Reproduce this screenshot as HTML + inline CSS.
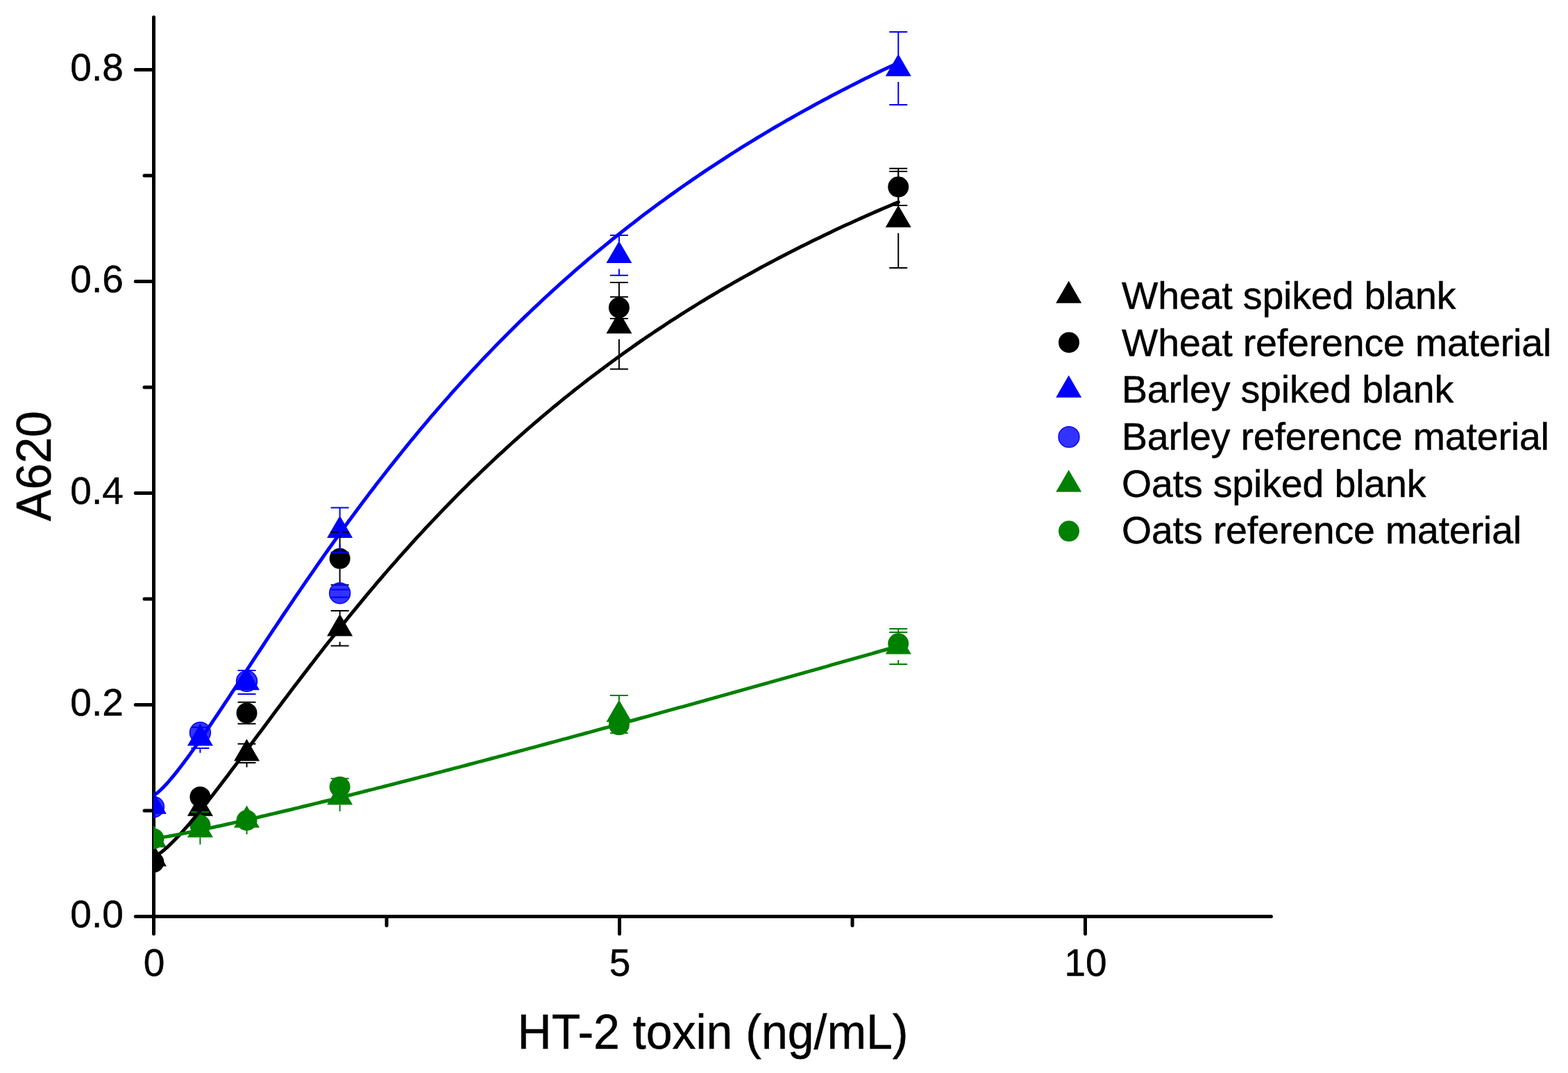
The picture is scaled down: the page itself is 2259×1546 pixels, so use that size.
<!DOCTYPE html>
<html><head><meta charset="utf-8"><title>HT-2 toxin calibration curves</title>
<style>
html,body{margin:0;padding:0;background:#fff;overflow:hidden;}
svg{display:block;}
text{font-family:"Liberation Sans",Arial,sans-serif;fill:#000;stroke:#000;stroke-width:0.45px;}
.tk{font-size:55px;}
.ti{font-size:68px;}
.lg{font-size:55.5px;letter-spacing:-0.17px;}
</style></head>
<body>
<svg width="2259" height="1546" viewBox="0 0 2259 1546">
<rect width="2259" height="1546" fill="#fff"/>
<defs><clipPath id="pa"><rect x="221" y="0" width="1619.9" height="1324.4"/></clipPath></defs>
<path d="M221.5,24.8V1320.4H1831.4" stroke="#000" stroke-width="5" fill="none" stroke-linecap="round"/>
<path d="M195.3,1320.4H221.5M208.0,1167.9H221.5M195.3,1015.4H221.5M208.0,862.9H221.5M195.3,710.4H221.5M208.0,558.0H221.5M195.3,405.5H221.5M208.0,253.0H221.5M195.3,100.5H221.5M221.5,1320.4V1345.4M557.0,1320.4V1333.4M892.5,1320.4V1345.4M1228.0,1320.4V1333.4M1563.5,1320.4V1345.4" stroke="#000" stroke-width="5" stroke-linecap="round"/>
<g clip-path="url(#pa)">
<path d="M221.4,1216.4L239.9,1248.3L202.9,1248.3Z" fill="#000"/><path d="M288.4,1143.8L306.9,1175.7L269.9,1175.7Z" fill="#000"/><path d="M355.5,1064.7L374.0,1096.6L337.0,1096.6Z" fill="#000"/><path d="M489.6,884.5L508.1,916.4L471.1,916.4Z" fill="#000"/><path d="M891.9,448.6L910.4,480.5L873.4,480.5Z" fill="#000"/><path d="M1294.2,295.7L1312.7,327.6L1275.7,327.6Z" fill="#000"/>
<circle cx="221.4" cy="1242.3" r="15" fill="#000"/><circle cx="288.4" cy="1148.2" r="15" fill="#000"/><circle cx="355.5" cy="1027.4" r="15" fill="#000"/><circle cx="489.6" cy="804.8" r="15" fill="#000"/><circle cx="891.9" cy="443.3" r="15" fill="#000"/><circle cx="1294.2" cy="269.3" r="15" fill="#000"/>
<path d="M221.4,1140.8L239.9,1172.7L202.9,1172.7Z" fill="#00f"/><path d="M288.4,1042.7L306.9,1074.6L269.9,1074.6Z" fill="#00f"/><path d="M355.5,962.3L374.0,994.2L337.0,994.2Z" fill="#00f"/><path d="M489.6,743.0L508.1,774.9L471.1,774.9Z" fill="#00f"/><path d="M891.9,347.2L910.4,379.1L873.4,379.1Z" fill="#00f"/><path d="M1294.2,77.8L1312.7,109.7L1275.7,109.7Z" fill="#00f"/>
<path d="M221.4,1189.1L239.9,1221.0L202.9,1221.0Z" fill="#008000"/><path d="M288.4,1174.7L306.9,1206.6L269.9,1206.6Z" fill="#008000"/><path d="M355.5,1160.5L374.0,1192.4L337.0,1192.4Z" fill="#008000"/><path d="M489.6,1127.6L508.1,1159.5L471.1,1159.5Z" fill="#008000"/><path d="M891.9,1008.4L910.4,1040.3L873.4,1040.3Z" fill="#008000"/><path d="M1294.2,910.7L1312.7,942.6L1275.7,942.6Z" fill="#008000"/>
<circle cx="221.4" cy="1208.4" r="15" fill="#008000"/><circle cx="288.4" cy="1189.0" r="15" fill="#008000"/><circle cx="355.5" cy="1182.0" r="15" fill="#008000"/><circle cx="489.6" cy="1133.8" r="15" fill="#008000"/><circle cx="891.9" cy="1044.3" r="15" fill="#008000"/><circle cx="1294.2" cy="927.3" r="15" fill="#008000"/>
<path d="M342.5,1071.8H368.5M342.5,1099.0H368.5M489.6,879.9V885.7M476.6,879.9H502.6M489.6,924.7V930.4M476.6,930.4H502.6M891.9,407.0V449.8M878.9,407.0H904.9M891.9,488.8V531.7M878.9,531.7H904.9M1294.2,247.0V296.9M1281.2,247.0H1307.2M1294.2,335.9V385.9M1281.2,385.9H1307.2M355.5,1099.0V1105.6" stroke="#000" stroke-width="2" fill="none"/>
<path d="M355.5,1011.8V1012.4M342.5,1011.8H368.5M355.5,1042.4V1042.8M342.5,1042.8H368.5M489.6,766.8V789.8M476.6,766.8H502.6M489.6,819.8V842.8M476.6,842.8H502.6M891.9,427.7V428.3M878.9,427.7H904.9M891.9,458.3V458.9M878.9,458.9H904.9M1294.2,242.7V254.3M1281.2,242.7H1307.2M1294.2,284.3V295.9M1281.2,295.9H1307.2" stroke="#000" stroke-width="2" fill="none"/>
<path d="M275.4,1048.1H301.4M275.4,1078.0H301.4M342.5,966.0H368.5M342.5,999.9H368.5M489.6,731.6V744.2M476.6,731.6H502.6M489.6,783.2V795.8M476.6,795.8H502.6M891.9,339.0V348.4M878.9,339.0H904.9M891.9,387.4V396.7M878.9,396.7H904.9M1294.2,46.0V79.0M1281.2,46.0H1307.2M1294.2,118.0V150.9M1281.2,150.9H1307.2M288.4,1078.9V1084.8" stroke="#00f" stroke-width="2" fill="none"/>
<path d="M891.9,1002.0V1009.6M878.9,1002.0H904.9M891.9,1048.6V1056.2M878.9,1056.2H904.9M1294.2,905.9V911.9M1281.2,905.9H1307.2M1294.2,950.9V957.0M1281.2,957.0H1307.2M288.4,1206.6V1216.8M355.5,1195.0V1202.0M489.6,1159.5V1168.9" stroke="#008000" stroke-width="2" fill="none"/>
<path d="M288.4,1170.1V1174.0M275.4,1170.1H301.4M476.6,1121.7H502.6M1294.2,910.9V912.3M1281.2,910.9H1307.2" stroke="#008000" stroke-width="2" fill="none"/>
<path d="M221.4,1234.4 L224.1,1233.4 L226.8,1231.9 L229.4,1230.1 L232.1,1228.1 L234.8,1226.0 L237.5,1223.7 L240.2,1221.4 L242.9,1218.9 L245.5,1216.4 L248.2,1213.7 L250.9,1211.0 L253.6,1208.3 L256.3,1205.4 L258.9,1202.6 L261.6,1199.6 L264.3,1196.7 L267.0,1193.6 L269.7,1190.6 L272.4,1187.5 L275.0,1184.3 L277.7,1181.1 L280.4,1177.9 L283.1,1174.7 L285.8,1171.4 L288.4,1168.1 L291.1,1164.8 L296.5,1158.1 L301.9,1151.3 L307.2,1144.4 L312.6,1137.5 L318.0,1130.5 L323.3,1123.5 L328.7,1116.4 L334.0,1109.3 L339.4,1102.2 L344.8,1095.1 L350.1,1087.9 L355.5,1080.7 L360.9,1073.5 L366.2,1066.3 L371.6,1059.1 L377.0,1051.9 L382.3,1044.7 L387.7,1037.5 L393.0,1030.3 L398.4,1023.1 L403.8,1016.0 L409.1,1008.8 L414.5,1001.7 L419.9,994.6 L425.2,987.5 L430.6,980.4 L436.0,973.4 L441.3,966.4 L446.7,959.4 L452.1,952.5 L457.4,945.6 L462.8,938.7 L468.1,931.8 L473.5,925.0 L478.9,918.2 L484.2,911.5 L489.6,904.8 L495.0,898.1 L500.3,891.5 L505.7,884.9 L511.1,878.3 L516.4,871.8 L521.8,865.3 L527.1,858.8 L532.5,852.4 L537.9,846.1 L543.2,839.7 L548.6,833.5 L554.0,827.2 L559.3,821.0 L564.7,814.9 L570.1,808.8 L575.4,802.7 L580.8,796.6 L586.2,790.7 L591.5,784.7 L596.9,778.8 L602.2,772.9 L607.6,767.1 L613.0,761.3 L618.3,755.6 L623.7,749.9 L629.1,744.2 L634.4,738.6 L639.8,733.0 L645.2,727.5 L650.5,722.0 L655.9,716.5 L661.2,711.1 L666.6,705.8 L672.0,700.4 L677.3,695.1 L682.7,689.9 L688.1,684.7 L693.4,679.5 L698.8,674.4 L704.2,669.3 L709.5,664.2 L714.9,659.2 L720.3,654.2 L725.6,649.3 L731.0,644.4 L736.3,639.5 L741.7,634.7 L747.1,629.9 L752.4,625.1 L757.8,620.4 L763.2,615.7 L768.5,611.1 L773.9,606.5 L779.3,601.9 L784.6,597.4 L790.0,592.9 L795.3,588.4 L800.7,584.0 L806.1,579.6 L811.4,575.2 L816.8,570.9 L822.2,566.6 L827.5,562.3 L832.9,558.1 L838.3,553.9 L843.6,549.7 L849.0,545.6 L854.4,541.5 L859.7,537.4 L865.1,533.4 L870.4,529.4 L875.8,525.4 L881.2,521.4 L886.5,517.5 L891.9,513.6 L897.3,509.8 L902.6,506.0 L908.0,502.2 L913.4,498.4 L918.7,494.6 L924.1,490.9 L929.4,487.3 L934.8,483.6 L940.2,480.0 L945.5,476.4 L950.9,472.8 L956.3,469.3 L961.6,465.7 L967.0,462.2 L972.4,458.8 L977.7,455.3 L983.1,451.9 L988.5,448.5 L993.8,445.2 L999.2,441.8 L1004.5,438.5 L1009.9,435.2 L1015.3,432.0 L1020.6,428.7 L1026.0,425.5 L1031.4,422.3 L1036.7,419.2 L1042.1,416.0 L1047.5,412.9 L1052.8,409.8 L1058.2,406.7 L1063.5,403.7 L1068.9,400.6 L1074.3,397.6 L1079.6,394.7 L1085.0,391.7 L1090.4,388.7 L1095.7,385.8 L1101.1,382.9 L1106.5,380.0 L1111.8,377.2 L1117.2,374.4 L1122.6,371.5 L1127.9,368.7 L1133.3,366.0 L1138.6,363.2 L1144.0,360.5 L1149.4,357.8 L1154.7,355.1 L1160.1,352.4 L1165.5,349.7 L1170.8,347.1 L1176.2,344.5 L1181.6,341.9 L1186.9,339.3 L1192.3,336.7 L1197.6,334.2 L1203.0,331.6 L1208.4,329.1 L1213.7,326.6 L1219.1,324.1 L1224.5,321.7 L1229.8,319.2 L1235.2,316.8 L1240.6,314.4 L1245.9,312.0 L1251.3,309.6 L1256.7,307.3 L1262.0,304.9 L1267.4,302.6 L1272.7,300.3 L1278.1,298.0 L1283.5,295.7 L1288.8,293.4 L1294.2,291.2" stroke="#000" stroke-width="5" fill="none" stroke-linejoin="round" stroke-linecap="round"/>
<path d="M221.4,1145.7 L224.1,1144.3 L226.8,1142.3 L229.4,1140.0 L232.1,1137.5 L234.8,1134.9 L237.5,1132.1 L240.2,1129.2 L242.9,1126.2 L245.5,1123.1 L248.2,1119.9 L250.9,1116.6 L253.6,1113.3 L256.3,1109.9 L258.9,1106.5 L261.6,1103.0 L264.3,1099.4 L267.0,1095.8 L269.7,1092.2 L272.4,1088.6 L275.0,1084.9 L277.7,1081.1 L280.4,1077.4 L283.1,1073.6 L285.8,1069.7 L288.4,1065.9 L291.1,1062.0 L296.5,1054.2 L301.9,1046.4 L307.2,1038.4 L312.6,1030.5 L318.0,1022.4 L323.3,1014.4 L328.7,1006.3 L334.0,998.2 L339.4,990.0 L344.8,981.9 L350.1,973.7 L355.5,965.5 L360.9,957.4 L366.2,949.2 L371.6,941.1 L377.0,933.0 L382.3,924.8 L387.7,916.7 L393.0,908.6 L398.4,900.6 L403.8,892.5 L409.1,884.5 L414.5,876.6 L419.9,868.6 L425.2,860.7 L430.6,852.8 L436.0,844.9 L441.3,837.1 L446.7,829.3 L452.1,821.6 L457.4,813.9 L462.8,806.2 L468.1,798.6 L473.5,791.0 L478.9,783.5 L484.2,776.0 L489.6,768.6 L495.0,761.2 L500.3,753.8 L505.7,746.5 L511.1,739.2 L516.4,732.0 L521.8,724.8 L527.1,717.7 L532.5,710.6 L537.9,703.6 L543.2,696.6 L548.6,689.7 L554.0,682.8 L559.3,675.9 L564.7,669.1 L570.1,662.4 L575.4,655.7 L580.8,649.0 L586.2,642.4 L591.5,635.8 L596.9,629.3 L602.2,622.8 L607.6,616.4 L613.0,610.1 L618.3,603.7 L623.7,597.4 L629.1,591.2 L634.4,585.0 L639.8,578.9 L645.2,572.8 L650.5,566.7 L655.9,560.7 L661.2,554.8 L666.6,548.8 L672.0,543.0 L677.3,537.1 L682.7,531.4 L688.1,525.6 L693.4,519.9 L698.8,514.3 L704.2,508.7 L709.5,503.1 L714.9,497.6 L720.3,492.1 L725.6,486.7 L731.0,481.3 L736.3,475.9 L741.7,470.6 L747.1,465.3 L752.4,460.1 L757.8,454.9 L763.2,449.7 L768.5,444.6 L773.9,439.6 L779.3,434.5 L784.6,429.5 L790.0,424.6 L795.3,419.6 L800.7,414.8 L806.1,409.9 L811.4,405.1 L816.8,400.3 L822.2,395.6 L827.5,390.9 L832.9,386.2 L838.3,381.6 L843.6,377.0 L849.0,372.4 L854.4,367.9 L859.7,363.4 L865.1,359.0 L870.4,354.6 L875.8,350.2 L881.2,345.8 L886.5,341.5 L891.9,337.2 L897.3,332.9 L902.6,328.7 L908.0,324.5 L913.4,320.4 L918.7,316.2 L924.1,312.1 L929.4,308.1 L934.8,304.0 L940.2,300.0 L945.5,296.1 L950.9,292.1 L956.3,288.2 L961.6,284.3 L967.0,280.4 L972.4,276.6 L977.7,272.8 L983.1,269.0 L988.5,265.3 L993.8,261.6 L999.2,257.9 L1004.5,254.2 L1009.9,250.6 L1015.3,246.9 L1020.6,243.4 L1026.0,239.8 L1031.4,236.3 L1036.7,232.8 L1042.1,229.3 L1047.5,225.8 L1052.8,222.4 L1058.2,219.0 L1063.5,215.6 L1068.9,212.2 L1074.3,208.9 L1079.6,205.6 L1085.0,202.3 L1090.4,199.0 L1095.7,195.8 L1101.1,192.6 L1106.5,189.4 L1111.8,186.2 L1117.2,183.0 L1122.6,179.9 L1127.9,176.8 L1133.3,173.7 L1138.6,170.7 L1144.0,167.6 L1149.4,164.6 L1154.7,161.6 L1160.1,158.6 L1165.5,155.7 L1170.8,152.7 L1176.2,149.8 L1181.6,146.9 L1186.9,144.0 L1192.3,141.2 L1197.6,138.3 L1203.0,135.5 L1208.4,132.7 L1213.7,129.9 L1219.1,127.2 L1224.5,124.4 L1229.8,121.7 L1235.2,119.0 L1240.6,116.3 L1245.9,113.6 L1251.3,111.0 L1256.7,108.3 L1262.0,105.7 L1267.4,103.1 L1272.7,100.5 L1278.1,98.0 L1283.5,95.4 L1288.8,92.9 L1294.2,90.4" stroke="#00f" stroke-width="5" fill="none" stroke-linejoin="round" stroke-linecap="round"/>
<path d="M476.6,849.4H502.6M476.6,860.5H502.6" stroke="#00f" stroke-width="2" fill="none"/>
<circle cx="221.4" cy="1162.7" r="15" fill="#00f" fill-opacity="0.8" stroke="#00f" stroke-width="1.4"/><circle cx="288.4" cy="1055.5" r="15" fill="#00f" fill-opacity="0.8" stroke="#00f" stroke-width="1.4"/><circle cx="355.5" cy="981.5" r="15" fill="#00f" fill-opacity="0.8" stroke="#00f" stroke-width="1.4"/><circle cx="489.6" cy="854.7" r="15" fill="#00f" fill-opacity="0.8" stroke="#00f" stroke-width="1.4"/>
<path d="M221.4,1208.4 L224.1,1208.1 L226.8,1207.7 L229.4,1207.2 L232.1,1206.8 L234.8,1206.4 L237.5,1205.9 L240.2,1205.4 L242.9,1205.0 L245.5,1204.5 L248.2,1204.0 L250.9,1203.5 L253.6,1203.0 L256.3,1202.5 L258.9,1201.9 L261.6,1201.4 L264.3,1200.9 L267.0,1200.4 L269.7,1199.8 L272.4,1199.3 L275.0,1198.7 L277.7,1198.2 L280.4,1197.6 L283.1,1197.1 L285.8,1196.5 L288.4,1196.0 L291.1,1195.4 L296.5,1194.3 L301.9,1193.1 L307.2,1192.0 L312.6,1190.8 L318.0,1189.7 L323.3,1188.5 L328.7,1187.3 L334.0,1186.1 L339.4,1184.9 L344.8,1183.7 L350.1,1182.5 L355.5,1181.3 L360.9,1180.0 L366.2,1178.8 L371.6,1177.6 L377.0,1176.3 L382.3,1175.1 L387.7,1173.8 L393.0,1172.6 L398.4,1171.3 L403.8,1170.0 L409.1,1168.7 L414.5,1167.5 L419.9,1166.2 L425.2,1164.9 L430.6,1163.6 L436.0,1162.3 L441.3,1161.0 L446.7,1159.7 L452.1,1158.4 L457.4,1157.1 L462.8,1155.8 L468.1,1154.5 L473.5,1153.2 L478.9,1151.8 L484.2,1150.5 L489.6,1149.2 L495.0,1147.8 L500.3,1146.5 L505.7,1145.2 L511.1,1143.8 L516.4,1142.5 L521.8,1141.1 L527.1,1139.8 L532.5,1138.4 L537.9,1137.1 L543.2,1135.7 L548.6,1134.4 L554.0,1133.0 L559.3,1131.6 L564.7,1130.3 L570.1,1128.9 L575.4,1127.5 L580.8,1126.1 L586.2,1124.8 L591.5,1123.4 L596.9,1122.0 L602.2,1120.6 L607.6,1119.2 L613.0,1117.9 L618.3,1116.5 L623.7,1115.1 L629.1,1113.7 L634.4,1112.3 L639.8,1110.9 L645.2,1109.5 L650.5,1108.1 L655.9,1106.7 L661.2,1105.3 L666.6,1103.9 L672.0,1102.5 L677.3,1101.0 L682.7,1099.6 L688.1,1098.2 L693.4,1096.8 L698.8,1095.4 L704.2,1094.0 L709.5,1092.5 L714.9,1091.1 L720.3,1089.7 L725.6,1088.3 L731.0,1086.8 L736.3,1085.4 L741.7,1084.0 L747.1,1082.5 L752.4,1081.1 L757.8,1079.7 L763.2,1078.2 L768.5,1076.8 L773.9,1075.4 L779.3,1073.9 L784.6,1072.5 L790.0,1071.0 L795.3,1069.6 L800.7,1068.1 L806.1,1066.7 L811.4,1065.2 L816.8,1063.8 L822.2,1062.3 L827.5,1060.9 L832.9,1059.4 L838.3,1058.0 L843.6,1056.5 L849.0,1055.1 L854.4,1053.6 L859.7,1052.1 L865.1,1050.7 L870.4,1049.2 L875.8,1047.8 L881.2,1046.3 L886.5,1044.8 L891.9,1043.4 L897.3,1041.9 L902.6,1040.4 L908.0,1039.0 L913.4,1037.5 L918.7,1036.0 L924.1,1034.5 L929.4,1033.1 L934.8,1031.6 L940.2,1030.1 L945.5,1028.6 L950.9,1027.2 L956.3,1025.7 L961.6,1024.2 L967.0,1022.7 L972.4,1021.2 L977.7,1019.7 L983.1,1018.3 L988.5,1016.8 L993.8,1015.3 L999.2,1013.8 L1004.5,1012.3 L1009.9,1010.8 L1015.3,1009.3 L1020.6,1007.8 L1026.0,1006.4 L1031.4,1004.9 L1036.7,1003.4 L1042.1,1001.9 L1047.5,1000.4 L1052.8,998.9 L1058.2,997.4 L1063.5,995.9 L1068.9,994.4 L1074.3,992.9 L1079.6,991.4 L1085.0,989.9 L1090.4,988.4 L1095.7,986.9 L1101.1,985.4 L1106.5,983.9 L1111.8,982.4 L1117.2,980.9 L1122.6,979.4 L1127.9,977.9 L1133.3,976.4 L1138.6,974.9 L1144.0,973.4 L1149.4,971.9 L1154.7,970.3 L1160.1,968.8 L1165.5,967.3 L1170.8,965.8 L1176.2,964.3 L1181.6,962.8 L1186.9,961.3 L1192.3,959.8 L1197.6,958.2 L1203.0,956.7 L1208.4,955.2 L1213.7,953.7 L1219.1,952.2 L1224.5,950.7 L1229.8,949.2 L1235.2,947.6 L1240.6,946.1 L1245.9,944.6 L1251.3,943.1 L1256.7,941.6 L1262.0,940.0 L1267.4,938.5 L1272.7,937.0 L1278.1,935.5 L1283.5,933.9 L1288.8,932.4 L1294.2,930.9" stroke="#008000" stroke-width="5" fill="none" stroke-linejoin="round" stroke-linecap="round"/>
</g>
<text x="177.8" y="1335.7" text-anchor="end" class="tk">0.0</text>
<text x="177.8" y="1030.7" text-anchor="end" class="tk">0.2</text>
<text x="177.8" y="725.7" text-anchor="end" class="tk">0.4</text>
<text x="177.8" y="420.8" text-anchor="end" class="tk">0.6</text>
<text x="177.8" y="115.8" text-anchor="end" class="tk">0.8</text>
<text x="222.0" y="1405.6" text-anchor="middle" class="tk">0</text>
<text x="893.0" y="1405.6" text-anchor="middle" class="tk">5</text>
<text x="1564.0" y="1405.6" text-anchor="middle" class="tk">10</text>
<text transform="translate(1027,1511) scale(1,1.04)" text-anchor="middle" class="ti">HT-2 toxin (ng/mL)</text>
<text transform="translate(73,671.5) rotate(-90) scale(1,1.04)" text-anchor="middle" class="ti">A620</text>
<path d="M1539.7,404.8L1558.2,436.7L1521.2,436.7Z" fill="#000"/>
<text x="1616" y="444.9" class="lg">Wheat spiked blank</text>
<circle cx="1540.0" cy="493.4" r="15" fill="#000"/>
<text x="1616" y="512.5" class="lg">Wheat reference material</text>
<path d="M1539.7,540.8L1558.2,572.7L1521.2,572.7Z" fill="#00f"/>
<text x="1616" y="580.2" class="lg">Barley spiked blank</text>
<circle cx="1540.0" cy="629.6" r="15" fill="#00f" fill-opacity="0.8" stroke="#00f" stroke-width="1.4"/>
<text x="1616" y="647.9" class="lg">Barley reference material</text>
<path d="M1539.7,676.9L1558.2,708.8L1521.2,708.8Z" fill="#008000"/>
<text x="1616" y="715.5" class="lg">Oats spiked blank</text>
<circle cx="1540.0" cy="765.3" r="15" fill="#008000"/>
<text x="1616" y="783.1" class="lg">Oats reference material</text>
</svg>
</body></html>
